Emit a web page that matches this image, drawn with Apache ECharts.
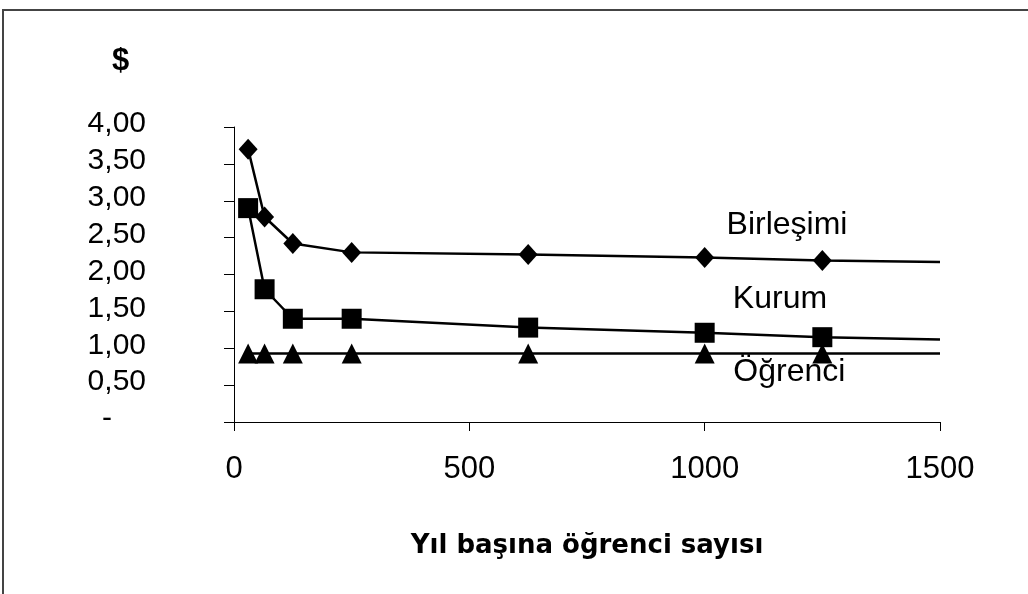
<!DOCTYPE html>
<html>
<head>
<meta charset="utf-8">
<script src="https://cdn.jsdelivr.net/npm/echarts@6/dist/echarts.min.js"></script>
<style>
  html, body { margin: 0; padding: 0; background: #fff; }
  #chart { width: 1028px; height: 594px; }
</style>
</head>
<body>
<div id="chart"></div>
<script>
// öğrenci sayısı (x) ve maliyetler ($)
var students = [30, 65, 125, 250, 625, 1000, 1250, 1500];
var birlesimi = [3.70, 2.78, 2.42, 2.30, 2.27, 2.23, 2.19, 2.17];
var kurum = [2.90, 1.80, 1.40, 1.40, 1.28, 1.21, 1.15, 1.12];
var ogrenci = [0.93, 0.93, 0.93, 0.93, 0.93, 0.93, 0.93, 0.93];
var seriesNames = ["Birleşimi", "Kurum", "Öğrenci"];
var xTicks = [0, 500, 1000, 1500];

var chart = echarts.init(document.getElementById("chart"));

// son nokta (1500) işaretsiz çiziliyor
function pts(vals) {
  return vals.map(function (v, i) {
    var item = { value: [students[i], v] };
    if (i === vals.length - 1) item.symbol = "none";
    return item;
  });
}

function line(name, vals, symbol, size, labelAt) {
  return {
    name: name,
    type: "line",
    data: pts(vals),
    symbol: symbol,
    symbolSize: size,
    itemStyle: { color: "#000" },
    lineStyle: { color: "#000", width: 2.5 },
    animation: false,
    markPoint: {
      symbol: "circle",
      symbolSize: 0,
      label: {
        show: true,
        formatter: name,
        color: "#000",
        fontFamily: "Liberation Sans, Arial",
        fontSize: 32
      },
      data: [{ coord: labelAt }]
    }
  };
}

var option = {
  backgroundColor: "#fff",
  grid: { left: 234, right: 88, top: 127, bottom: 172 },
  graphic: [
    {
      type: "polyline",
      shape: { points: [[3, 594], [3, 10], [1028, 10]] },
      style: { stroke: "#444", lineWidth: 2, fill: null }
    },
    {
      type: "text",
      left: 112,
      top: 46,
      style: { text: "$", font: "bold 31px Liberation Sans, Arial", fill: "#000" }
    }
  ],
  xAxis: {
    type: "value",
    min: 0,
    max: 1500,
    interval: 500,
    name: "Yıl başına öğrenci sayısı",
    nameLocation: "middle",
    nameGap: 111,
    nameTextStyle: {
      color: "#000",
      fontFamily: "DejaVu Sans",
      fontWeight: "bold",
      fontSize: 26
    },
    axisLine: { show: true, lineStyle: { color: "#000", width: 1 } },
    axisTick: { show: true, length: 9, lineStyle: { color: "#000" } },
    splitLine: { show: false },
    axisLabel: {
      color: "#000",
      fontFamily: "Liberation Sans, Arial",
      fontSize: 31,
      margin: 32,
      customValues: xTicks,
      formatter: function (v) { return String(v); }
    }
  },
  yAxis: {
    type: "value",
    min: 0,
    max: 4,
    interval: 0.5,
    axisLine: { show: true, lineStyle: { color: "#000", width: 1 } },
    axisTick: { show: true, length: 10, lineStyle: { color: "#000" } },
    splitLine: { show: false },
    axisLabel: {
      color: "#000",
      fontFamily: "Liberation Sans, Arial",
      fontSize: 30,
      margin: 88,
      padding: [0, 0, 6, 0],
      formatter: function (v) {
        if (v === 0) return "{d|-}";
        return v.toFixed(2).replace(".", ",");
      },
      rich: {
        d: { fontSize: 30, fontFamily: "Liberation Sans, Arial", color: "#000", padding: [0, 34, 0, 0] }
      }
    }
  },
  series: [
    line(seriesNames[0], birlesimi, "diamond", [19, 21], [1175, 2.67]),
    line(seriesNames[1], kurum, "rect", 20, [1160, 1.67]),
    line(seriesNames[2], ogrenci, "triangle", [20, 20], [1180, 0.67])
  ]
};

chart.setOption(option);
</script>
</body>
</html>
